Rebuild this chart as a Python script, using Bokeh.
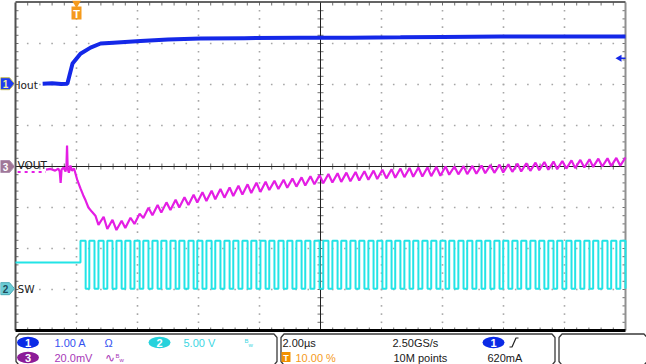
import numpy as np
from bokeh.plotting import figure
from bokeh.models import Range1d
from bokeh.embed import file_html
from bokeh.resources import INLINE
from bokeh.core.properties import value

# ---------------- data ----------------
time_per_div_us = 2.0        # "2.00µs"
trigger_pos_pct = 10.0       # "10.00 %"
ch1_scale_a = 1.00           # "1.00 A"
ch2_scale_v = 5.00           # "5.00 V"
ch3_scale_mv = 20.0          # "20.0mV"
trigger_level_a = 0.620      # "620mA"

# Iout (channel 1), amps
iout_t_us = [-1.11, -0.80, -0.50, -0.30, -0.13, 0.13, 0.46, 0.79, 1.21, 2.10,
             3.00, 4.07, 5.50, 7.34, 9.00, 10.62, 12.00, 13.90, 16.00, 18.00]
iout_a = [0.00, 0.01, -0.01, 0.00, 0.49, 0.73, 0.88, 0.98, 1.00, 1.04,
          1.08, 1.10, 1.11, 1.12, 1.12, 1.13, 1.14, 1.15, 1.15, 1.15]

# VOUT (channel 3), mV, before the switching ripple starts
vout_dash_t_us = [-1.93, -1.00]
vout_dash_mv = [-2.7, -2.7]
vout_head_t_us = [-1.00, -0.85, -0.70, -0.60, -0.55, -0.52, -0.49, -0.42, -0.36, -0.33,
                  -0.31, -0.29, -0.25, -0.20, -0.15, -0.08, 0.03, 0.13, 0.22, 0.30,
                  0.39, 0.50, 0.62]
vout_head_mv = [-1.5, -1.2, -2.0, -1.0, -2.5, -8.0, -1.5, -0.5, -2.5, 0.0,
                10.2, -1.0, -3.0, 0.5, -2.0, -1.0, -6.8, -10.7, -14.0, -16.6,
                -20.0, -22.0, -24.0]
# VOUT ripple: valleys / peaks of each switching cycle (cycles 3..61)
vout_lo_mv = [-28.5, -30.5, -31.0, -30.0, -28.0, -25.1, -23.8, -22.5, -21.2, -20.0,
              -18.8, -17.6, -16.8, -16.0, -15.2, -14.4, -13.7, -12.9, -12.4, -11.5,
              -11.0, -10.4, -9.8, -9.3, -8.7, -8.2, -7.8, -7.5, -7.2, -6.8,
              -6.5, -6.1, -5.8, -5.5, -5.2, -5.0, -4.9, -4.7, -4.5, -4.0,
              -3.8, -3.7, -3.5, -3.3, -3.1, -2.9, -2.6, -2.4, -2.1, -1.8,
              -1.6, -1.3, -1.0, -0.8, -0.5, -0.2, 0.0, 0.2, 0.4]
vout_hi_mv = [-24.5, -26.0, -26.5, -25.0, -23.0, -20.1, -18.8, -17.5, -16.2, -15.0,
              -13.8, -12.6, -11.8, -11.0, -10.2, -9.4, -8.7, -7.9, -7.4, -7.0,
              -6.5, -5.9, -5.3, -4.8, -4.2, -3.7, -3.3, -3.0, -2.7, -2.3,
              -2.0, -1.6, -1.3, -1.0, -0.7, -0.5, -0.4, -0.2, 0.0, 0.0,
              0.2, 0.3, 0.5, 0.7, 0.9, 1.1, 1.4, 1.6, 1.9, 2.2,
              2.4, 2.7, 3.0, 3.2, 3.5, 3.8, 4.0, 4.2, 4.4]

# SW (channel 2): rising-edge times, µs, and levels, V
sw_rise_us = [0.13, 0.42, 0.72, 1.01, 1.31, 1.60, 1.90, 2.19, 2.49, 2.78,
              3.08, 3.37, 3.67, 3.96, 4.26, 4.55, 4.85, 5.14, 5.44, 5.73,
              6.03, 6.32, 6.62, 6.91, 7.21, 7.50, 7.80, 8.09, 8.39, 8.68,
              8.98, 9.27, 9.57, 9.86, 10.16, 10.45, 10.75, 11.04, 11.34, 11.63,
              11.93, 12.22, 12.52, 12.81, 13.11, 13.40, 13.70, 13.99, 14.29, 14.58,
              14.88, 15.17, 15.47, 15.76, 16.06, 16.35, 16.65, 16.94, 17.24, 17.53,
              17.83]
sw_high_us = 0.17
sw_high_v = 5.85
sw_low_v = 0.0
sw_idle_v = 3.2

# ---------------- screen layout ----------------
W, H = 646, 364
GX0, GX1, GY0, GY1 = 15, 625, 2, 330
DX, DY = 61, 41
XC, YC = 320, 166
ch1_offset_div = 2.02
ch2_offset_div = -2.98
ch3_offset_div = 0.0

C_BLUE = "#1428e8"
C_MAG = "#e41ee4"
C_CYAN = "#22e4e6"
C_ORANGE = "#f59a1c"
FONT = value("Liberation Sans")

p = figure(width=W, height=H, x_range=Range1d(0, W), y_range=Range1d(H, 0),
           x_axis_location=None, y_axis_location=None, toolbar_location=None,
           tools="", output_backend="svg", min_border=0, outline_line_color=None,
           background_fill_color="white", border_fill_color="white")
p.xgrid.visible = False
p.ygrid.visible = False

us_per_px = time_per_div_us / DX
t_left = -trigger_pos_pct / 100.0 * 10 * time_per_div_us
p.extra_x_ranges = {"t": Range1d(t_left - GX0 * us_per_px, t_left + (W - GX0) * us_per_px)}


def ch_range(scale, off):
    return Range1d(((YC - H) / DY - off) * scale, (YC / DY - off) * scale)


p.extra_y_ranges = {
    "i": ch_range(ch1_scale_a, ch1_offset_div),
    "sw": ch_range(ch2_scale_v, ch2_offset_div),
    "v": ch_range(ch3_scale_mv, ch3_offset_div),
}

# ---------------- graticule ----------------
dx5, dy5 = DX / 5.0, DY / 5.0
dots_x, dots_y = [], []
for i in range(1, 10):
    if i == 5:
        continue
    for k in range(1, 40):
        dots_x.append(GX0 + i * DX)
        dots_y.append(GY0 + k * dy5)
for j in range(1, 8):
    if j == 4:
        continue
    for k in range(1, 50):
        dots_x.append(GX0 + k * dx5)
        dots_y.append(GY0 + j * DY)
p.scatter(dots_x, dots_y, marker="square", size=1.6, fill_color="#a6a6a6", line_color=None)

tx0, ty0, tx1, ty1 = [], [], [], []
for k in range(1, 50):
    x = GX0 + k * dx5
    tx0 += [x, x, x]; tx1 += [x, x, x]
    ty0 += [GY0, GY1 - 3, YC - 3]; ty1 += [GY0 + 3, GY1, YC + 3]
for k in range(1, 40):
    y = GY0 + k * dy5
    tx0 += [GX0, GX1 - 3, XC - 3]; tx1 += [GX0 + 3, GX1, XC + 3]
    ty0 += [y, y, y]; ty1 += [y, y, y]
p.segment(tx0, ty0, tx1, ty1, line_color="#707070", line_width=1)

p.segment([XC, GX0], [GY0, YC], [XC, GX1], [GY1, YC], line_color="#202020", line_width=1)
p.line([GX0, GX0], [GY0, GY1], line_color="#505050", line_width=2)
p.line([GX1, GX1], [GY0, GY1], line_color="#909090", line_width=2)
p.line([GX0, GX1], [1.5, 1.5], line_color="#303030", line_width=1.5)
p.line([GX0, GX1], [GY1, GY1], line_color="#000000", line_width=3)

# ---------------- traces ----------------
sw_t = [t_left, sw_rise_us[0]]
sw_v = [sw_idle_v, sw_idle_v]
for k, r in enumerate(sw_rise_us):
    f = r + sw_high_us
    sw_t += [r, f, f]
    sw_v += [sw_high_v, sw_high_v, sw_low_v]
    if k + 1 < len(sw_rise_us):
        sw_t.append(sw_rise_us[k + 1])
        sw_v.append(sw_low_v)
p.line(sw_t, sw_v, x_range_name="t", y_range_name="sw", line_color=C_CYAN, line_width=2)

v_t = list(vout_head_t_us)
v_v = list(vout_head_mv)
for k in range(len(vout_lo_mv)):
    r = sw_rise_us[k + 2]
    v_t += [r, r + sw_high_us]
    v_v += [vout_lo_mv[k], vout_hi_mv[k]]
p.line(vout_dash_t_us, vout_dash_mv, x_range_name="t", y_range_name="v",
       line_color=C_MAG, line_width=2, line_dash="3 4")
p.line(v_t, v_v, x_range_name="t", y_range_name="v", line_color=C_MAG, line_width=2.2)

p.line(iout_t_us, iout_a, x_range_name="t", y_range_name="i", line_color=C_BLUE, line_width=4)

# ---------------- markers and labels ----------------
def ch_marker(yc, fill, line, txt, tcol):
    p.patch([0, 9, 14, 9, 0], [yc - 6, yc - 6, yc, yc + 6, yc + 6],
            fill_color=fill, line_color=line, line_width=1)
    p.text([5], [yc], text=[txt], text_color=tcol, text_font=FONT, text_font_size="10px",
           text_font_style="bold", text_align="center", text_baseline="middle")


ch_marker(YC - ch1_offset_div * DY, "#1e3cf0", "#c8c050", "1", "#f0f0a0")
ch_marker(YC - ch3_offset_div * DY, "#a07898", "#b090b0", "3", "#ffffff")
ch_marker(YC - ch2_offset_div * DY, "#6ccdd6", "#4aa8b4", "2", "#1c4a5a")

lbl_font = value("DejaVu Sans")
p.text([17, 17, 17], [YC - ch1_offset_div * DY + 1, YC - 2, YC - ch2_offset_div * DY],
       text=["Iout", "VOUT", "SW"], text_color="#202020", text_font=lbl_font,
       text_font_size="10.5px", text_baseline="middle")

# trigger position marker
p.scatter([0], [2.5], x_range_name="t", marker="inverted_triangle", size=9,
          fill_color=C_ORANGE, line_color=None)
p.rect([0], [12.5], width=10 * us_per_px, height=13, x_range_name="t",
       fill_color=C_ORANGE, line_color=None)
p.text([0], [13], x_range_name="t", text=["T"], text_color="white", text_font=FONT,
       text_font_size="11px", text_font_style="bold", text_align="center", text_baseline="middle")

# trigger level arrow (right edge)
p.segment([619], [trigger_level_a], [625], [trigger_level_a], y_range_name="i",
          line_color=C_BLUE, line_width=1.5)
p.scatter([619], [trigger_level_a], y_range_name="i", marker="triangle", angle=np.pi / 2,
          size=7, fill_color=C_BLUE, line_color=None)

# ---------------- status bar ----------------
def box(xl, xr):
    p.line([xl + 3, xl + 0.5, xl + 0.5, xl + 3.5, xr - 3.5, xr - 0.5, xr - 0.5, xr - 3],
           [364, 361, 337, 333.5, 333.5, 337, 361, 364], line_color="#3a3a3a", line_width=1.3)


box(15, 277)
box(280, 555)
box(558, 647)

R1, R2 = 342, 357
p.ellipse([27.5, 27.5, 159, 493], [R1, R2, R1, R1], width=22, height=11.5,
          fill_color=["#0a2ae6", "#8c1c98", "#26d2dc", "#0a2ae6"], line_color=None)
p.text([27.5, 27.5, 159, 493], [R1, R2, R1, R1], text=["1", "3", "2", "1"],
       text_color="white", text_font=FONT, text_font_size="11px", text_font_style="bold",
       text_align="center", text_baseline="middle")
p.rect([285.5], [356.5], width=9, height=10, fill_color="#f29100", line_color=None)
p.text([285.5], [357], text=["T"], text_color="white", text_font=FONT, text_font_size="9px",
       text_font_style="bold", text_align="center", text_baseline="middle")

def st(x, y, s, col, size="11px", align="left"):
    p.text([x], [y], text=[s], text_color=col, text_font=FONT, text_font_size=size,
           text_align=align, text_baseline="middle")


st(54, R1, "1.00 A", "#3452f0")
st(104, R1, "Ω", "#3452f0")
st(183, R1, "5.00 V", "#3cd6e2")
st(244, R1 - 2, "B", "#3cd6e2", "6px")
st(248, R1 + 2, "w", "#3cd6e2", "6px")
st(54, R2, "20.0mV", "#a838b8")
st(104, R2, "∿", "#a838b8", "12px")
st(115, R2 - 2, "B", "#a838b8", "6px")
st(119, R2 + 2, "w", "#a838b8", "6px")
st(282, R1, "2.00µs", "#202020")
st(295, R2, "10.00 %", C_ORANGE)
st(392, R1, "2.50GS/s", "#202020")
st(393, R2, "10M points", "#202020")
st(487, R2, "620mA", "#202020")
p.line([509, 511.5, 515.5, 518], [346.5, 346.5, 337.5, 337.5], line_color="#202020", line_width=1.2)

open("out.html", "w").write(file_html(p, INLINE))
